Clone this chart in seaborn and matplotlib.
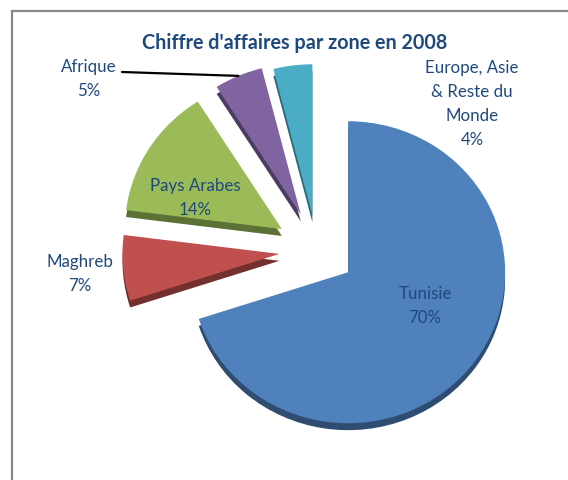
import matplotlib
matplotlib.use("Agg")
import matplotlib.pyplot as plt
import seaborn as sns
from matplotlib.patches import Rectangle
import numpy as np

# donnees du graphique
zones = ["Tunisie", "Maghreb", "Pays Arabes", "Afrique", "Europe, Asie\n& Reste du\nMonde"]
parts = [70, 7, 14, 5, 4]
couleurs = ["#4F81BD", "#C0504D", "#9BBB59", "#8064A2", "#4BACC6"]
titre = "Chiffre d'affaires par zone en 2008"

# mise en page (pixels depuis le coin haut-gauche)
W, H = 568, 480
CX, CY = 317.0, 250.5
SX, SY = 157.0, 151.0   # leger ecrasement vertical (effet 3D)
explode = [0.245, 0.24, 0.265, 0.26, 0.235]
pos_labels = [(425, 306), (80, 274), (195, 198), (89, 79), (472, 104)]

sns.set_theme(style="white")
plt.rcParams["font.family"] = ["Lato", "DejaVu Sans"]

fig = plt.figure(figsize=(W / 100, H / 100), dpi=100)
ax = fig.add_axes([0, 0, 1, 1])

wedges, _ = ax.pie(parts, colors=couleurs, explode=explode, startangle=90,
                   counterclock=False, radius=1,
                   shadow={"ox": 0, "oy": -0.033, "shade": 0.4, "alpha": 1},
                   wedgeprops=dict(linewidth=0))

ax.set_aspect("auto")
ax.set_xlim(-CX / SX, (W - CX) / SX)
ax.set_ylim(-(H - CY) / SY, CY / SY)
ax.axis("off")


def px(x, y):
    return (x - CX) / SX, (CY - y) / SY


bleu = "#1F497D"
for i, (nom, p) in enumerate(zip(zones, parts)):
    x, y = px(*pos_labels[i])
    ax.text(x, y, f"{nom}\n{p}%", ha="center", va="center", fontsize=12.2,
            color=bleu, linespacing=1.6)

# trait de rappel pour Afrique
w = wedges[3]
mid = np.deg2rad((w.theta1 + w.theta2) / 2)
pt = (w.center[0] + 1.0 * np.cos(mid), w.center[1] + 1.0 * np.sin(mid))
ax.annotate("", xy=pt, xytext=px(122, 72),
            arrowprops=dict(arrowstyle="-", color="black", lw=1.6,
                            shrinkA=0, shrinkB=0))

fig.text(295 / W, 1 - 43 / H, titre, ha="center", va="center",
         fontsize=14.2, fontweight="bold", color=bleu)

# cadre
fig.patches.append(Rectangle((11.5 / W, -0.1), 1.2, (H - 10.5) / H + 0.1,
                             transform=fig.transFigure, fill=False,
                             edgecolor="#888888", linewidth=1.6))

fig.savefig("out.png", dpi=100)
